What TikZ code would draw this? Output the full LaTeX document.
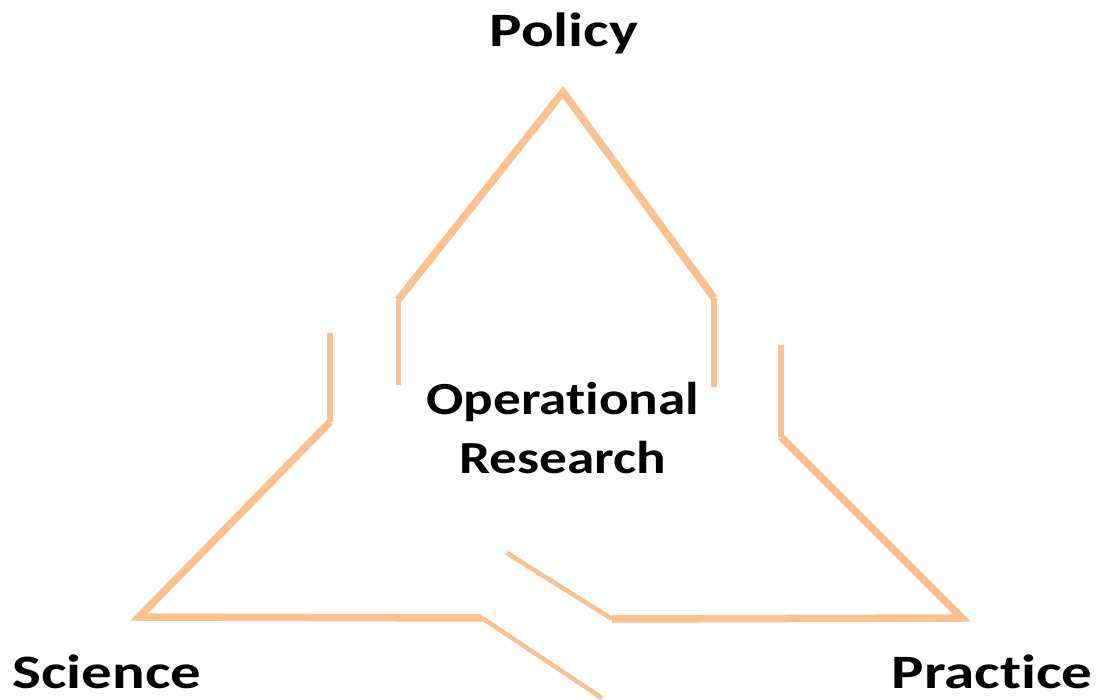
\documentclass[tikz,border=0pt]{standalone}
\usepackage{fontspec}
\setmainfont{Carlito}[RawFeature=-liga]
\usepackage{xcolor}
\usepackage{tikz}
\usetikzlibrary{positioning}
\definecolor{peach}{HTML}{FAC090}
\tikzset{
  arm/.style={draw=peach, line width=7.5pt, line join=miter},
  stub/.style={draw=peach, line width=5pt},
  link/.style={draw=peach, line width=4.5pt},
  corner/.style={font=\bfseries\fontsize{48}{56}\selectfont, xscale=1.27, anchor=base, inner sep=0pt},
  core/.style={font=\bfseries\fontsize{46}{59}\selectfont, xscale=1.2, align=center, inner sep=0pt},
}
\begin{document}
\begin{tikzpicture}[x=1pt, y=-1pt]
  \useasboundingbox (0,0) rectangle (1097,700);
  % top wedge
  \draw[stub] (398,385) -- (398,300);
  \draw[arm] (398,300) -- (563,92) -- (714,298);
  \draw[stub, line width=6pt] (714,298) -- (714,387);
  % left wedge
  \draw[stub, line width=5.5pt] (330,333) -- (330,422);
  \draw[arm] (330,422) -- (139,617) -- (482,618);
  \draw[link] (482,618) -- (602,698);
  % right wedge
  \draw[stub, line width=5.5pt] (781,345) -- (781,437);
  \draw[arm] (781,437) -- (962,618) -- (612,619);
  \draw[link] (612,619) -- (507,553);
  % labels
  \node[corner] (policy) at (564,47) {Policy};
  \node[corner] (science) at (107,688) {Science};
  \node[corner] (practice) at (992,688) {Practice};
  \node[core, anchor=base] (orcore) at (563,473) {Operational\\Research};
\end{tikzpicture}
\end{document}
